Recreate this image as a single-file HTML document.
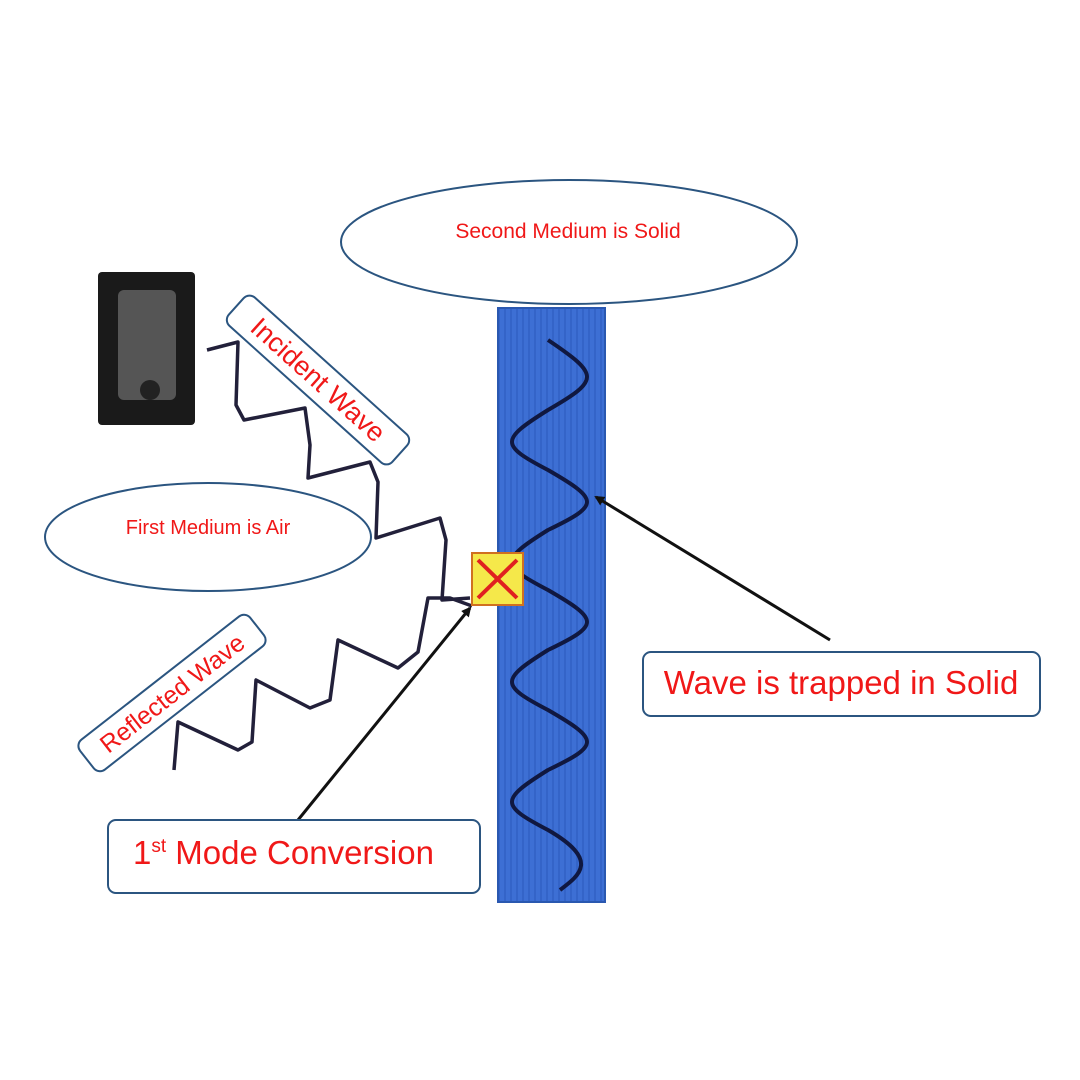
<!DOCTYPE html>
<html><head><meta charset="utf-8"><style>
body{margin:0;background:#fff}
svg{display:block}
text{font-family:"Liberation Sans",sans-serif;fill:#f01818}
</style></head><body>
<svg width="1080" height="1080" viewBox="0 0 1080 1080">
<defs>
<pattern id="st" width="6" height="10" patternUnits="userSpaceOnUse">
<rect width="6" height="10" fill="#3d6fd4"/><rect width="2" height="10" fill="#3464c8"/>
</pattern>
<marker id="ah" markerWidth="10" markerHeight="10" refX="8" refY="5" orient="auto" markerUnits="userSpaceOnUse">
<path d="M0,0 L10,5 L0,10 z" fill="#111"/></marker>
</defs>
<rect x="498" y="308" width="107" height="594" fill="url(#st)" stroke="#2a58b0" stroke-width="2"/>
<ellipse cx="569" cy="242" rx="228" ry="62" fill="#fff" stroke="#2b5580" stroke-width="2"/>
<text x="568" y="238" font-size="21" text-anchor="middle">Second Medium is Solid</text>
<ellipse cx="208" cy="537" rx="163" ry="54" fill="#fff" stroke="#2b5580" stroke-width="2"/>
<text x="208" y="534" font-size="20" text-anchor="middle">First Medium is Air</text>
<rect x="98" y="272" width="97" height="153" rx="4" fill="#1a1a1a"/>
<rect x="118" y="290" width="58" height="110" rx="6" fill="#555"/>
<circle cx="150" cy="390" r="10" fill="#222"/>
<path d="M548,340 C600,375 600,380 548,410 C500,440 500,445 548,470 C600,500 600,505 548,530 C500,560 500,565 548,590 C600,620 600,625 548,650 C500,680 500,685 548,710 C600,740 600,745 548,770 C500,800 500,805 548,830 C600,860 580,875 560,890" fill="none" stroke="#101840" stroke-width="4"/>
<polyline points="207,350 238,342 236,405 244,420 305,408 310,445 308,478 370,462 378,482 376,538 440,518 446,540 442,600 470,598" fill="none" stroke="#22203a" stroke-width="3.5" stroke-linejoin="round"/>
<polyline points="472,606 450,598 428,598 418,652 398,668 338,640 330,700 310,708 256,680 252,742 238,750 178,722 174,770" fill="none" stroke="#22203a" stroke-width="3.5" stroke-linejoin="round"/>
<rect x="472" y="553" width="51" height="52" fill="#f5e84a" stroke="#d07020" stroke-width="2"/>
<path d="M478,560 L517,598 M517,560 L478,598" stroke="#e02020" stroke-width="4"/>
<line x1="830" y1="640" x2="596" y2="497" stroke="#111" stroke-width="3" marker-end="url(#ah)"/>
<line x1="298" y1="820" x2="470" y2="608" stroke="#111" stroke-width="3" marker-end="url(#ah)"/>
<g transform="translate(318,380) rotate(42)">
<rect x="-110" y="-19" width="220" height="38" rx="8" fill="#fff" stroke="#2b5580" stroke-width="2"/>
<text x="0" y="9" font-size="27" text-anchor="middle">Incident Wave</text></g>
<g transform="translate(172,693) rotate(-38)">
<rect x="-108" y="-19" width="216" height="38" rx="8" fill="#fff" stroke="#2b5580" stroke-width="2"/>
<text x="0" y="9" font-size="25" text-anchor="middle">Reflected Wave</text></g>
<rect x="643" y="652" width="397" height="64" rx="8" fill="#fff" stroke="#2b5580" stroke-width="2"/>
<text x="841" y="694" font-size="33" text-anchor="middle">Wave is trapped in Solid</text>
<rect x="108" y="820" width="372" height="73" rx="8" fill="#fff" stroke="#2b5580" stroke-width="2"/>
<text x="133" y="864" font-size="33">1<tspan font-size="19" dy="-12">st</tspan><tspan dy="12"> Mode Conversion</tspan></text>
</svg>
</body></html>
